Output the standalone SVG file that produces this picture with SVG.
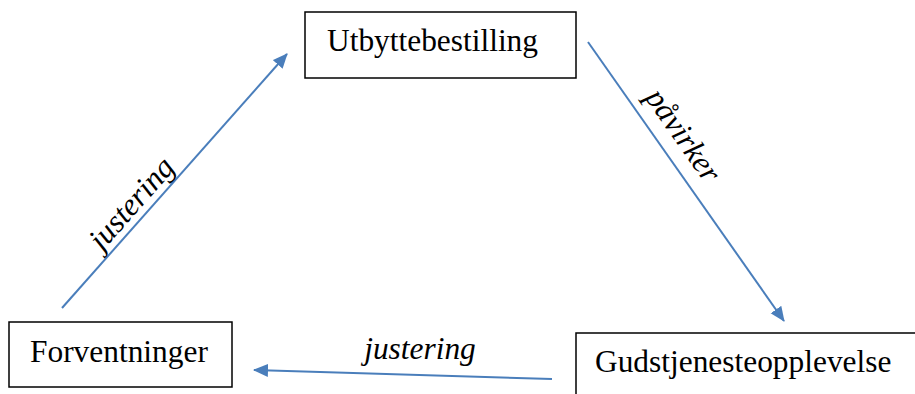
<svg xmlns="http://www.w3.org/2000/svg" width="915" height="394" viewBox="0 0 915 394">
<style>
.box{fill:#fff;stroke:#000;stroke-width:1.5}
.lbl{font-family:"Liberation Serif","Times New Roman",serif;font-size:31.4px;fill:#000}
.edge{font-family:"Liberation Serif","Times New Roman",serif;font-size:31.4px;font-style:italic;fill:#000}
.conn{stroke:#4A7EBB;stroke-width:2;fill:none;marker-end:url(#ah)}
</style>
<defs>
<marker id="ah" markerUnits="userSpaceOnUse" markerWidth="16" markerHeight="14" refX="14" refY="6.5" orient="auto">
<path d="M0,0 L15,6.5 L0,13 z" fill="#4A7EBB"/>
</marker>
</defs>
<rect width="915" height="394" fill="#fff"/>
<g id="connectors">
<line class="conn" x1="62" y1="308" x2="287" y2="54"/>
<line class="conn" x1="588" y1="42" x2="784" y2="321"/>
<line class="conn" x1="552" y1="379" x2="254" y2="370"/>
<text class="edge" text-anchor="middle" transform="translate(139,210) rotate(-48.5)">justering</text>
<text class="edge" text-anchor="middle" transform="translate(675,141) rotate(54.9)">påvirker</text>
<text class="edge" text-anchor="middle" x="420" y="359">justering</text>
</g>
<g id="node-utbyttebestilling">
<rect class="box" x="305" y="12" width="271" height="66"/>
<text class="lbl" x="327" y="51">Utbyttebestilling</text>
</g>
<g id="node-forventninger">
<rect class="box" x="9" y="322" width="223" height="65"/>
<text class="lbl" x="30" y="362">Forventninger</text>
</g>
<g id="node-gudstjenesteopplevelse">
<rect class="box" x="576" y="333" width="360" height="80"/>
<text class="lbl" x="595" y="372">Gudstjenesteopplevelse</text>
</g>
</svg>
